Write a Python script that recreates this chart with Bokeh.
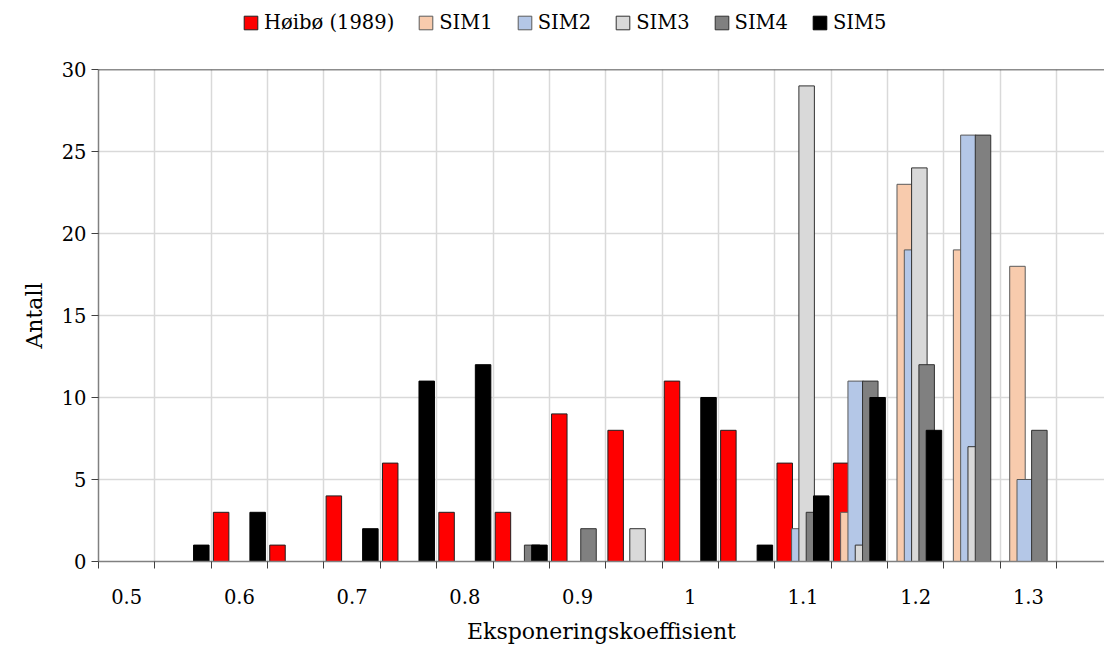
from bokeh.plotting import figure
from bokeh.layouts import column
from bokeh.models import FixedTicker, Span, Range1d, Legend, LegendItem
from bokeh.embed import file_html
from bokeh.resources import INLINE

# ---- data ----
categories = ["0.5", "0.55", "0.6", "0.65", "0.7", "0.75", "0.8", "0.85", "0.9",
              "0.95", "1", "1.05", "1.1", "1.15", "1.2", "1.25", "1.3"]
tick_labels = ["0.5", "0.6", "0.7", "0.8", "0.9", "1", "1.1", "1.2", "1.3"]
series_names = ["Høibø (1989)", "SIM1", "SIM2", "SIM3", "SIM4", "SIM5"]
hoibo = [0, 0, 3, 1, 4, 6, 3, 3, 9, 8, 11, 8, 6, 6, 0, 0, 0]
sim1 = [0, 0, 0, 0, 0, 0, 0, 0, 0, 0, 0, 0, 0, 3, 23, 19, 18]
sim2 = [0, 0, 0, 0, 0, 0, 0, 0, 0, 0, 0, 0, 2, 11, 19, 26, 5]
sim3 = [0, 0, 0, 0, 0, 0, 0, 0, 0, 2, 0, 0, 29, 1, 24, 7, 0]
sim4 = [0, 0, 0, 0, 0, 0, 0, 1, 2, 0, 0, 0, 3, 11, 12, 26, 8]
sim5 = [0, 1, 3, 0, 2, 11, 12, 1, 0, 0, 10, 1, 4, 10, 8, 0, 0]
fill_colors = ["#FF0000", "#F8CBAD", "#B4C7E7", "#D9D9D9", "#808080", "#000000"]
line_colors = ["#202020", "#5a5a5a", "#5a5a5a", "#303030", "#303030", "#000000"]

all_series = [hoibo, sim1, sim2, sim3, sim4, sim5]
n_cat = len(categories)

FONT = "DejaVu Serif"
LEG_H = 57

# ---- legend strip (its frame is aligned with the chart's frame) ----
lp = figure(width=1104, height=LEG_H, output_backend="svg", toolbar_location=None,
            x_range=Range1d(0, 1), y_range=Range1d(0, 1),
            x_axis_type=None, y_axis_type=None,
            min_border_left=98, min_border_right=0, min_border_top=0,
            min_border_bottom=0)
lp.outline_line_color = None
items = []
for s, name in enumerate(series_names):
    # legend key only: a degenerate bar placed outside the visible range
    r = lp.vbar(x=[-5], top=[-5], bottom=-5, width=0,
                fill_color=fill_colors[s], line_color=line_colors[s], line_width=1)
    items.append(LegendItem(label=name, renderers=[r]))
lg = Legend(items=items, orientation="horizontal", location=(144, 23))
lg.border_line_color = None
lg.background_fill_alpha = 0
lg.padding = 0
lg.margin = 0
lg.spacing = 23
lg.label_standoff = 5
lg.glyph_width = 17
lg.glyph_height = 17
lg.label_text_font = FONT
lg.label_text_font_size = "19.5px"
lg.label_text_color = "black"
lp.add_layout(lg, "center")

# ---- main chart ----
p = figure(width=1104, height=646 - LEG_H, output_backend="svg", toolbar_location=None,
           x_range=Range1d(-0.5, 17.35), y_range=Range1d(0, 30),
           min_border_left=98, min_border_right=0, min_border_top=69 - LEG_H,
           min_border_bottom=85)
p.outline_line_color = None
p.background_fill_color = "white"

bar_w = 0.275
step = 0.1296
for s, vals in enumerate(all_series):
    xs = [i + (s - 2.5) * step for i, v in enumerate(vals) if v > 0]
    tops = [v for v in vals if v > 0]
    p.vbar(x=xs, top=tops, bottom=0, width=bar_w,
           fill_color=fill_colors[s], line_color=line_colors[s], line_width=1)

# top line at 30
p.add_layout(Span(location=30, dimension="width", line_color="#1a1a1a", line_width=1.6))

# x axis
label_pos = [categories.index(t) for t in tick_labels]
p.xaxis.ticker = FixedTicker(ticks=label_pos,
                             minor_ticks=[k - 0.5 for k in range(n_cat + 2)])
p.xaxis.major_label_overrides = {i: t for i, t in zip(label_pos, tick_labels)}
p.xaxis.major_tick_out = 0
p.xaxis.major_tick_in = 0
p.xaxis.minor_tick_out = 7
p.xaxis.minor_tick_in = 0
p.xaxis.minor_tick_line_color = "#404040"
p.xaxis.axis_line_color = "#808080"
p.xaxis.axis_line_width = 1.5
p.xaxis.major_label_standoff = 20
p.xaxis.major_label_text_font = FONT
p.xaxis.major_label_text_font_size = "19.5px"
p.xaxis.major_label_text_color = "black"
p.xaxis.axis_label = "Eksponeringskoeffisient"
p.xaxis.axis_label_text_font = FONT
p.xaxis.axis_label_text_font_size = "22px"
p.xaxis.axis_label_text_font_style = "normal"
p.xaxis.axis_label_text_color = "black"
p.xaxis.axis_label_standoff = 12

# y axis
p.yaxis.ticker = FixedTicker(ticks=[0, 5, 10, 15, 20, 25, 30])
p.yaxis.major_tick_out = 7
p.yaxis.major_tick_in = 0
p.yaxis.minor_tick_out = 0
p.yaxis.minor_tick_in = 0
p.yaxis.major_tick_line_color = "#404040"
p.yaxis.axis_line_color = "#808080"
p.yaxis.axis_line_width = 1.5
p.yaxis.major_label_standoff = 5
p.yaxis.major_label_text_font = FONT
p.yaxis.major_label_text_font_size = "19.5px"
p.yaxis.major_label_text_color = "black"
p.yaxis.axis_label = "Antall"
p.yaxis.axis_label_text_font = FONT
p.yaxis.axis_label_text_font_size = "22px"
p.yaxis.axis_label_text_font_style = "normal"
p.yaxis.axis_label_text_color = "black"
p.yaxis.axis_label_standoff = 12

# grids
p.xgrid.ticker = FixedTicker(ticks=[k + 0.5 for k in range(n_cat)])
p.ygrid.ticker = FixedTicker(ticks=[5, 10, 15, 20, 25])
p.xgrid.grid_line_color = "#D9D9D9"
p.ygrid.grid_line_color = "#D9D9D9"
p.xgrid.grid_line_width = 1.5
p.ygrid.grid_line_width = 1.5

layout = column(lp, p, spacing=0)
open("out.html", "w").write(file_html(layout, INLINE))
